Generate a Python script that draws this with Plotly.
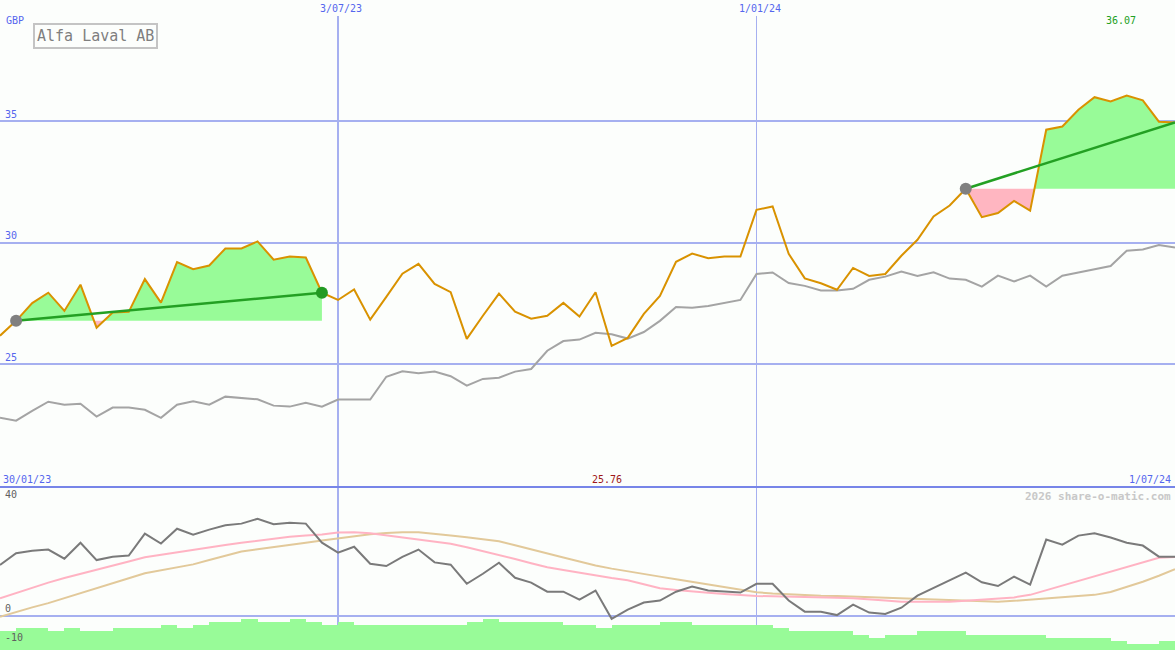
import pandas as pd
import plotly.graph_objects as go

# ---------------- data ----------------
dates = pd.date_range("2023-02-06", periods=74, freq="7D")

price = [26.18, 26.79, 27.52, 27.95, 27.20, 28.28, 26.51, 27.13, 27.16, 28.51,
         27.54, 29.21, 28.92, 29.07, 29.77, 29.77, 30.06, 29.31, 29.44, 29.40,
         27.95, 27.65, 28.08, 26.84, 27.78, 28.73, 29.14, 28.31, 27.97, 26.05,
         27.00, 27.91, 27.17, 26.88, 27.00, 27.53, 26.97, 27.97, 25.76, 26.09,
         27.08, 27.82, 29.22, 29.56, 29.37, 29.44, 29.44, 31.36, 31.50, 29.55,
         28.54, 28.34, 28.07, 28.97, 28.64, 28.72, 29.47, 30.13, 31.09, 31.54,
         32.23, 31.06, 31.23, 31.73, 31.33, 34.66, 34.79, 35.48, 36.00, 35.82,
         36.07, 35.87, 34.99, 34.96]

bench = [22.80, 22.68, 23.08, 23.46, 23.34, 23.38, 22.85, 23.22, 23.22, 23.13,
         22.80, 23.34, 23.48, 23.34, 23.67, 23.63, 23.56, 23.30, 23.26, 23.42,
         23.26, 23.55, 23.55, 23.55, 24.49, 24.71, 24.63, 24.70, 24.51, 24.12,
         24.40, 24.45, 24.70, 24.81, 25.56, 25.96, 26.02, 26.30, 26.24, 26.06,
         26.33, 26.79, 27.36, 27.33, 27.40, 27.51, 27.65, 28.72, 28.78, 28.35,
         28.23, 28.04, 28.04, 28.11, 28.48, 28.61, 28.82, 28.64, 28.79, 28.53,
         28.48, 28.20, 28.65, 28.41, 28.65, 28.20, 28.65, 28.78, 28.92, 29.05,
         29.68, 29.73, 29.91, 29.81]

osc = [17.8, 21.9, 22.8, 23.2, 20.0, 25.6, 19.5, 20.7, 21.1, 28.8,
       25.3, 30.5, 28.4, 30.2, 31.7, 32.3, 34.0, 32.1, 32.6, 32.3,
       25.6, 22.1, 24.2, 18.2, 17.4, 20.6, 23.2, 18.7, 17.9, 11.2,
       14.7, 18.6, 13.3, 11.6, 8.4, 8.4, 5.6, 8.8, -1.1, 2.1,
       4.6, 5.3, 8.4, 10.2, 8.8, 8.4, 8.1, 11.2, 11.2, 5.3,
       1.4, 1.4, 0.2, 3.9, 1.1, 0.6, 2.8, 7.0, 9.8, 12.5,
       15.1, 11.7, 10.4, 13.7, 10.9, 26.7, 24.9, 28.1, 28.9, 27.4,
       25.6, 24.6, 20.7, 20.7]

osc_fast = [6.1, 7.9, 9.9, 11.6, 13.2, 14.6, 16.0, 17.4, 19.0, 20.5,
            21.4, 22.3, 23.1, 23.9, 24.8, 25.6, 26.3, 27.0, 27.7, 28.1,
            28.5, 29.2, 29.3, 28.9, 28.2, 27.3, 26.6, 25.9, 25.2, 24.0,
            22.7, 21.4, 19.9, 18.4, 17.0, 16.0, 15.0, 14.0, 13.2, 12.4,
            10.9, 9.6, 9.0, 8.4, 8.0, 7.6, 7.2, 6.9, 6.8, 6.7,
            6.7, 6.5, 6.3, 6.1, 5.8, 5.3, 4.9, 4.9, 4.9, 4.9,
            5.2, 5.6, 6.0, 6.4, 7.3, 8.9, 10.5, 12.1, 13.7, 15.3,
            17.0, 18.7, 20.3, 20.6]

osc_slow = [-0.4, 1.3, 2.9, 4.4, 6.1, 7.9, 9.6, 11.4, 13.1, 14.9,
            16.0, 17.0, 18.0, 19.5, 21.0, 22.5, 23.3, 24.0, 24.8, 25.6,
            26.4, 27.2, 27.9, 28.6, 29.0, 29.3, 29.3, 28.8, 28.1, 27.5,
            26.8, 26.1, 24.7, 23.2, 21.8, 20.4, 19.0, 17.6, 16.5, 15.5,
            14.6, 13.7, 12.8, 11.9, 11.0, 10.0, 9.0, 8.2, 7.8, 7.5,
            7.2, 7.0, 6.9, 6.7, 6.5, 6.2, 6.0, 5.8, 5.7, 5.5,
            5.3, 5.1, 4.9, 5.2, 5.6, 6.0, 6.4, 6.9, 7.3, 8.3,
            10.0, 11.9, 14.0, 16.3]

volume = [6.7, 7.7, 7.7, 6.7, 7.7, 6.7, 6.7, 7.7, 7.7, 7.7,
          8.8, 7.7, 8.8, 9.8, 9.8, 10.9, 9.8, 9.8, 10.9, 9.8,
          8.8, 9.8, 8.8, 8.8, 8.8, 8.8, 8.8, 8.8, 8.8, 9.8,
          10.9, 9.8, 9.8, 9.8, 9.8, 8.8, 8.8, 7.7, 8.8, 8.8,
          8.8, 9.8, 9.8, 8.8, 8.8, 8.8, 8.8, 8.8, 7.7, 6.7,
          6.7, 6.7, 6.7, 5.3, 4.2, 5.3, 5.3, 6.7, 6.7, 6.7,
          5.3, 5.3, 5.3, 5.3, 5.3, 4.2, 4.2, 4.2, 4.2, 3.2,
          2.1, 2.1, 3.2, 3.2]

# highlighted holding periods (start index, end index, show end marker)
periods = [(1, 20, True), (60, 73, False)]
marked_dates = ["2023-07-03", "2024-01-01"]
marked_labels = ["3/07/23", "1/01/24"]
title_text = "Alfa Laval AB"
currency = "GBP"
start_label = "30/01/23"
end_label = "1/07/24"
credit = "2026 share-o-matic.com"

# ---------------- styling ----------------
W, H = 1175, 650
LOWER_H = 163
MAIN_RANGE = [19.95, 40.0]
LOW_RANGE = [-12.05, 45.15]
BG = "#fcfefc"
GRID = "#a6b0f0"
BLUE_TXT = "#5566ee"
FONT = "DejaVu Sans Mono"
GREEN_FILL = "#98fb98"
PINK_FILL = "#ffb6c1"
ORANGE = "#d99200"
TREND = "#23a023"


def region(i0, i1, base, above):
    xs = [d.value for d in dates[i0:i1 + 1]]
    ys = price[i0:i1 + 1]
    px, py = [], []
    for j in range(len(xs)):
        if j > 0:
            a, b = ys[j - 1], ys[j]
            if (a - base) * (b - base) < 0:
                t = (base - a) / (b - a)
                px.append(xs[j - 1] + t * (xs[j] - xs[j - 1]))
                py.append(base)
        px.append(xs[j])
        py.append(max(ys[j], base) if above else min(ys[j], base))
    px = px + [px[-1], px[0]]
    py = py + [base, base]
    return pd.to_datetime([int(v) for v in px]), py


fig = go.Figure()

# period fills
for s, e, _ in periods:
    base = price[s]
    for above, col in ((True, GREEN_FILL), (False, PINK_FILL)):
        rx, ry = region(s, e, base, above)
        fig.add_trace(go.Scatter(x=rx, y=ry, mode="lines", fill="toself",
                                 fillcolor=col, line=dict(width=0),
                                 hoverinfo="skip", xaxis="x", yaxis="y"))

# benchmark + price
fig.add_trace(go.Scatter(x=dates, y=bench, mode="lines",
                         line=dict(color="#a4a4a4", width=2), xaxis="x", yaxis="y"))
fig.add_trace(go.Scatter(x=dates, y=price, mode="lines",
                         line=dict(color=ORANGE, width=2), xaxis="x", yaxis="y"))

# trend lines and markers
for s, e, show_end in periods:
    fig.add_trace(go.Scatter(x=[dates[s], dates[e]], y=[price[s], price[e]],
                             mode="lines", line=dict(color=TREND, width=2.5),
                             xaxis="x", yaxis="y"))
    fig.add_trace(go.Scatter(x=[dates[s]], y=[price[s]], mode="markers",
                             marker=dict(color="#808080", size=12),
                             xaxis="x", yaxis="y"))
    if show_end:
        fig.add_trace(go.Scatter(x=[dates[e]], y=[price[e]], mode="markers",
                                 marker=dict(color="#229a22", size=12),
                                 xaxis="x", yaxis="y"))

# lower panel
fig.add_trace(go.Bar(x=dates, y=volume, base=LOW_RANGE[0], width=7 * 86400000,
                     offset=0, marker=dict(color=GREEN_FILL, line=dict(width=0)),
                     xaxis="x", yaxis="y2"))
fig.add_trace(go.Scatter(x=dates, y=osc_slow, mode="lines",
                         line=dict(color="#e2c99a", width=2), xaxis="x", yaxis="y2"))
fig.add_trace(go.Scatter(x=dates, y=osc_fast, mode="lines",
                         line=dict(color="#ffb3c3", width=2), xaxis="x", yaxis="y2"))
fig.add_trace(go.Scatter(x=dates, y=osc, mode="lines",
                         line=dict(color="#7a7a7a", width=2), xaxis="x", yaxis="y2"))

split = LOWER_H / H

shapes = []
for d, w in zip(marked_dates, [2, 1]):
    shapes.append(dict(type="line", xref="x", yref="paper", x0=d, x1=d,
                       y0=0, y1=1 - 16 / H, line=dict(color=GRID, width=w),
                       layer="below"))
shapes.append(dict(type="line", xref="paper", yref="paper", x0=0, x1=1,
                   y0=split, y1=split, line=dict(color="#7785e8", width=2),
                   layer="above"))

annotations = []
for d, lab in zip(marked_dates, marked_labels):
    annotations.append(dict(x=d, xref="x", y=1 - 8 / H, yref="paper", text=lab,
                            showarrow=False, xanchor="center", yanchor="middle",
                            xshift=3, font=dict(family=FONT, size=10, color=BLUE_TXT)))
annotations += [
    dict(x=0, xref="paper", y=1 - 20 / H, yref="paper", text=currency,
         showarrow=False, xanchor="left", yanchor="middle", xshift=4,
         font=dict(family=FONT, size=10, color=BLUE_TXT)),
    dict(x=95 / W, xref="paper", y=1 - 36 / H, yref="paper", text=title_text,
         showarrow=False, xanchor="center", yanchor="middle",
         font=dict(family=FONT, size=15, color="#7f7f7f"),
         bordercolor="#c4c4c4", borderwidth=2, borderpad=2),
    dict(x=0, xref="paper", y=1 - 479 / H, yref="paper", text=start_label,
         showarrow=False, xanchor="left", yanchor="middle", xshift=1,
         font=dict(family=FONT, size=10, color=BLUE_TXT)),
    dict(x=1, xref="paper", y=1 - 479 / H, yref="paper", text=end_label,
         showarrow=False, xanchor="right", yanchor="middle", xshift=-2,
         font=dict(family=FONT, size=10, color=BLUE_TXT)),
    dict(x=1, xref="paper", y=1 - 496 / H, yref="paper", text="<b>" + credit + "</b>",
         showarrow=False, xanchor="right", yanchor="middle", xshift=-2,
         font=dict(family=FONT, size=11, color="#c8c8c8")),
]
imax = max(range(len(price)), key=lambda i: price[i])
imin = min(range(len(price)), key=lambda i: price[i])
annotations += [
    dict(x=dates[imax], xref="x", y=1 - 21 / H, yref="paper",
         text=f"{price[imax]:.2f}", showarrow=False, xanchor="center",
         yanchor="middle", xshift=-6, font=dict(family=FONT, size=10, color="#22a022")),
    dict(x=dates[imin], xref="x", y=1 - 479 / H, yref="paper",
         text=f"{price[imin]:.2f}", showarrow=False, xanchor="center",
         yanchor="middle", xshift=-5, font=dict(family=FONT, size=10, color="#a01818")),
]

fig.update_layout(
    width=W, height=H, margin=dict(l=0, r=0, t=0, b=0),
    paper_bgcolor=BG, plot_bgcolor=BG, showlegend=False, bargap=0,
    xaxis=dict(type="date", range=[dates[0], dates[-1]], visible=False,
               domain=[0, 1], anchor="y2"),
    yaxis=dict(domain=[split, 1], range=MAIN_RANGE, tickvals=[25, 30, 35],
               ticktext=["25", "30", "35"], showgrid=True, gridcolor=GRID,
               gridwidth=2, zeroline=False, showline=False, ticks="",
               ticklabelposition="inside top", ticklabelstandoff=2, anchor="x",
               tickfont=dict(family=FONT, size=10, color=BLUE_TXT)),
    yaxis2=dict(domain=[0, split], range=LOW_RANGE, tickvals=[-10, 0, 40],
                ticktext=["-10", "0", "40"], showgrid=False, zeroline=True,
                zerolinecolor=GRID, zerolinewidth=2, showline=False, ticks="",
                ticklabelposition="inside top", ticklabelstandoff=2, anchor="x",
                tickfont=dict(family=FONT, size=10, color="#606060")),
    shapes=shapes, annotations=annotations,
)

fig.write_html("out.html", config={"displayModeBar": False},
               post_script="document.body.style.margin='0';document.body.style.overflow='hidden';")
